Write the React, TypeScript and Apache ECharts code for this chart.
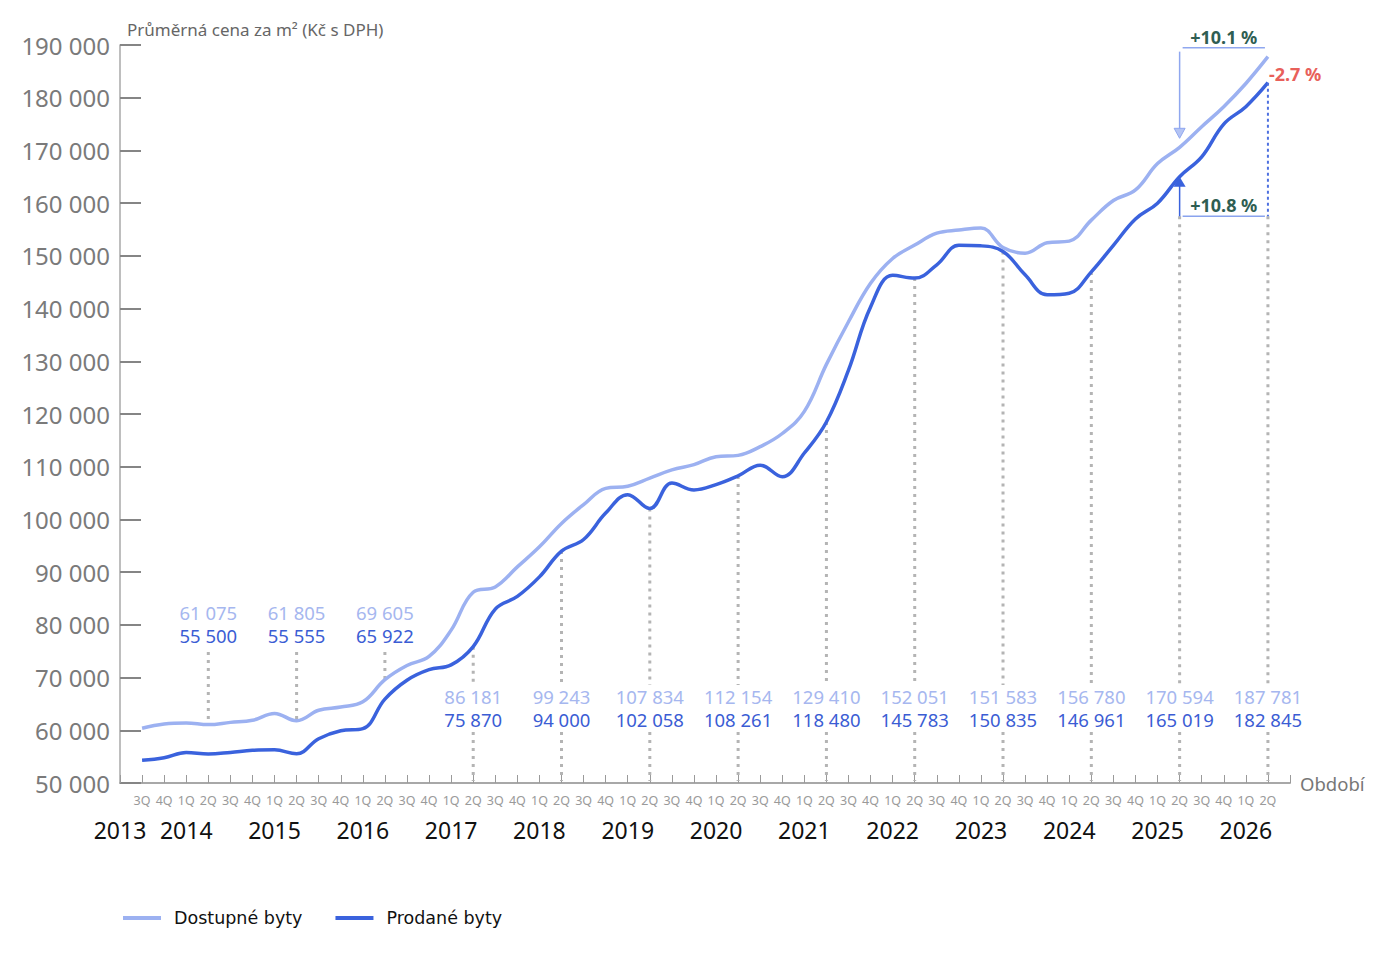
import React, { useEffect, useRef } from 'react';
import * as echarts from 'echarts';

// ---- data ----
const QUARTERS = [
  '3Q', '4Q',
  '1Q', '2Q', '3Q', '4Q', '1Q', '2Q', '3Q', '4Q', '1Q', '2Q', '3Q', '4Q',
  '1Q', '2Q', '3Q', '4Q', '1Q', '2Q', '3Q', '4Q', '1Q', '2Q', '3Q', '4Q',
  '1Q', '2Q', '3Q', '4Q', '1Q', '2Q', '3Q', '4Q', '1Q', '2Q', '3Q', '4Q',
  '1Q', '2Q', '3Q', '4Q', '1Q', '2Q', '3Q', '4Q', '1Q', '2Q', '3Q', '4Q',
  '1Q', '2Q',
];
const YEARS = ['2013', '2014', '2015', '2016', '2017', '2018', '2019', '2020', '2021', '2022', '2023', '2024', '2025', '2026'];
const YEAR_TICKS = [-1, 2, 6, 10, 14, 18, 22, 26, 30, 34, 38, 42, 46, 50];

const DOSTUPNE = [
  60400, 61200,
  61400, 61075, 61500, 61900,
  63200, 61805, 63800, 64400,
  65400, 69605, 72300, 74000,
  79000, 86181, 87200, 91000,
  94800, 99243, 102800, 105900,
  106300, 107834, 109400, 110400,
  111900, 112154, 113800, 116300,
  120500, 129410, 137500, 144800,
  149500, 152051, 154300, 154900,
  155300, 151583, 150500, 152500,
  152800, 156780, 160500, 162500,
  167500, 170594, 174500, 178300,
  182700, 187781,
];
const PRODANE = [
  54300, 54800,
  55800, 55500, 55800, 56200,
  56300, 55555, 58400, 59900,
  60300, 65922, 69500, 71500,
  72400, 75870, 83000, 85400,
  89100, 94000, 96200, 101200,
  104700, 102058, 106900, 105600,
  106600, 108261, 110300, 108100,
  112600, 118480, 128300, 140300,
  146300, 145783, 148300, 152000,
  151900, 150835, 146400, 142600,
  142900, 146961, 152000, 157000,
  160000, 165019, 168800, 175000,
  178300, 182845,
];
const LABELED = [3, 7, 11, 15, 19, 23, 27, 31, 35, 39, 43, 47, 51];
const LABELS_ABOVE = [3, 7, 11];

const ANNOT_FROM = 47;
const ANNOT_TO = 51;
const BRACKET_TOP = 189500;
const BRACKET_LOW = 157500;
const PCT_TOP = '+10.1 %';
const PCT_BOTTOM = '+10.8 %';
const PCT_RIGHT = '-2.7 %';

const SERIES_NAMES = ['Dostupné byty', 'Prodané byty'];
const Y_NAME = 'Průměrná cena za m² (Kč s DPH)';
const X_NAME = 'Období';

const Y_MIN = 50000;
const Y_MAX = 190000;

// ---- style ----
const C_LIGHT = '#9cb1f1';
const C_DARK = '#3a62dd';
const C_LIGHT_TXT = '#a6b7ef';
const C_DARK_TXT = '#3b5dd4';
const C_GREEN = '#2f5e52';
const C_RED = '#e8605a';
const FONT = "'Noto Sans', sans-serif";

const fmt = (v: number) => String(v).replace(/\B(?=(\d{3})+(?!\d))/g, ' ');

export default function App() {
  const ref = useRef<HTMLDivElement>(null);

  useEffect(() => {
    if (!ref.current) return;
    const chart = echarts.init(ref.current, null, { renderer: 'svg' });

    const dot = { stroke: '#b4b4b4', lineWidth: 3, lineDash: [3, 5] };

    const labelItems = LABELED.map((i) => [i, DOSTUPNE[i], PRODANE[i], LABELS_ABOVE.includes(i) ? 1 : 0]);

    const option: any = {
      animation: false,
      backgroundColor: '#ffffff',
      grid: { left: 120, right: 96, top: 45, bottom: 170, containLabel: false },
      legend: {
        data: SERIES_NAMES,
        left: 118,
        top: 904,
        icon: 'rect',
        itemWidth: 38,
        itemHeight: 4,
        itemGap: 33,
        textStyle: { fontFamily: "'DejaVu Sans', sans-serif", fontSize: 17.5, color: '#111', padding: [0, 0, 0, 8] },
      },
      xAxis: [
        {
          type: 'value',
          min: -1,
          max: 52,
          interval: 1,
          name: X_NAME,
          nameLocation: 'end',
          nameGap: 10,
          nameTextStyle: { fontFamily: FONT, fontSize: 18.5, color: '#777' },
          splitLine: { show: false },
          axisLine: { show: true, onZero: false, lineStyle: { color: '#a8a8a8', width: 2 } },
          axisTick: { show: true, inside: true, length: 8, lineStyle: { color: '#9a9a9a', width: 1 } },
          axisLabel: {
            margin: 11,
            fontFamily: FONT,
            fontSize: 12.5,
            color: '#9a9a9a',
            showMinLabel: true,
            showMaxLabel: true,
            formatter: (v: number) => (v >= 0 && v < QUARTERS.length ? QUARTERS[v] : ''),
          },
        },
        {
          type: 'value',
          min: -1,
          max: 52,
          interval: 1,
          position: 'bottom',
          splitLine: { show: false },
          axisLine: { show: false, onZero: false },
          axisTick: { show: false },
          axisLabel: {
            margin: 35,
            fontFamily: FONT,
            fontSize: 23,
            color: '#111',
            showMinLabel: true,
            showMaxLabel: true,
            formatter: (v: number) => {
              const k = YEAR_TICKS.indexOf(v);
              return k >= 0 ? YEARS[k] : '';
            },
          },
        },
      ],
      yAxis: {
        type: 'value',
        min: Y_MIN,
        max: Y_MAX,
        interval: 10000,
        name: Y_NAME,
        nameLocation: 'end',
        nameGap: 7,
        nameTextStyle: { fontFamily: FONT, fontSize: 17, color: '#666', align: 'left', verticalAlign: 'bottom', padding: [0, 0, 0, 7] },
        splitLine: { show: false },
        axisLine: { show: true, onZero: false, lineStyle: { color: '#a8a8a8', width: 1.5 } },
        axisTick: { show: true, inside: true, length: 21, lineStyle: { color: '#858585', width: 2 } },
        axisLabel: {
          margin: 10,
          fontFamily: FONT,
          fontSize: 24,
          color: '#7a7a7a',
          formatter: (v: number) => fmt(v),
        },
      },
      series: [
        {
          type: 'custom',
          name: 'labels',
          z: 1,
          xAxisIndex: 0,
          yAxisIndex: 0,
          silent: true,
          clip: false,
          data: labelItems,
          encode: { x: 0, y: 1 },
          renderItem: (_p: any, api: any) => {
            const i = api.value(0);
            const d = api.value(1);
            const p = api.value(2);
            const above = api.value(3);
            const [x, base] = api.coord([i, Y_MIN]);
            const dy = api.coord([i, d])[1];
            const py = api.coord([i, Math.min(p, BRACKET_LOW)])[1];
            const children: any[] = [];
            const txt = (text: string, y: number, color: string) => ({
              type: 'text',
              style: { text, x, y, fill: color, fontFamily: FONT, fontSize: 18.5, lineHeight: 20, align: 'center', verticalAlign: 'middle' },
            });
            if (above) {
              children.push({ type: 'line', shape: { x1: x, y1: base - 131, x2: x, y2: dy }, style: dot });
              children.push(txt(fmt(d), base - 171, C_LIGHT_TXT));
              children.push(txt(fmt(p), base - 148, C_DARK_TXT));
            } else {
              children.push({ type: 'line', shape: { x1: x, y1: py, x2: x, y2: base - 98 }, style: dot });
              children.push({ type: 'line', shape: { x1: x, y1: base - 51, x2: x, y2: base - 2 }, style: dot });
              children.push(txt(fmt(d), base - 87, C_LIGHT_TXT));
              children.push(txt(fmt(p), base - 64, C_DARK_TXT));
            }
            return { type: 'group', children };
          },
        },
        {
          type: 'line',
          name: SERIES_NAMES[0],
          z: 3,
          data: DOSTUPNE.map((v, i) => [i, v]),
          smooth: 0.4,
          showSymbol: false,
          symbol: 'none',
          color: C_LIGHT,
          lineStyle: { color: C_LIGHT, width: 3.5 },
        },
        {
          type: 'line',
          name: SERIES_NAMES[1],
          z: 4,
          data: PRODANE.map((v, i) => [i, v]),
          smooth: 0.4,
          showSymbol: false,
          symbol: 'none',
          color: C_DARK,
          lineStyle: { color: C_DARK, width: 3.5 },
        },
        {
          type: 'custom',
          name: 'annotation',
          z: 5,
          silent: true,
          clip: false,
          data: [[ANNOT_FROM, DOSTUPNE[ANNOT_FROM]]],
          encode: { x: 0, y: 1 },
          renderItem: (_p: any, api: any) => {
            const a = api.coord([ANNOT_FROM, DOSTUPNE[ANNOT_FROM]]);
            const b = api.coord([ANNOT_TO, DOSTUPNE[ANNOT_TO]]);
            const c = api.coord([ANNOT_FROM, PRODANE[ANNOT_FROM]]);
            const d = api.coord([ANNOT_TO, PRODANE[ANNOT_TO]]);
            const topY = api.coord([ANNOT_FROM, BRACKET_TOP])[1];
            const lowY = api.coord([ANNOT_FROM, BRACKET_LOW])[1];
            const midX = (a[0] + b[0]) / 2;
            const bold = (text: string, x: number, y: number, color: string, align: string) => ({
              type: 'text',
              style: { text, x, y, fill: color, fontFamily: FONT, fontSize: 18, fontWeight: 'bold', align, verticalAlign: 'middle' },
            });
            return {
              type: 'group',
              children: [
                { type: 'line', shape: { x1: a[0] + 3, y1: topY, x2: b[0] - 3, y2: topY }, style: { stroke: '#8fa7ef', lineWidth: 1.5 } },
                { type: 'line', shape: { x1: a[0], y1: topY + 4, x2: a[0], y2: a[1] - 18 }, style: { stroke: '#8fa7ef', lineWidth: 1.5 } },
                {
                  type: 'polygon',
                  shape: { points: [[a[0] - 5.5, a[1] - 19], [a[0] + 5.5, a[1] - 19], [a[0], a[1] - 9]] },
                  style: { fill: '#b3c3f4', stroke: '#8fa7ef', lineWidth: 1 },
                },
                bold(PCT_TOP, midX, topY - 11, C_GREEN, 'center'),
                bold(PCT_RIGHT, d[0] + 1, d[1] - 9, C_RED, 'left'),
                { type: 'line', shape: { x1: a[0] + 3, y1: lowY, x2: b[0] - 3, y2: lowY }, style: { stroke: '#8aa3ee', lineWidth: 1.5 } },
                { type: 'line', shape: { x1: c[0], y1: lowY, x2: c[0], y2: c[1] + 8 }, style: { stroke: C_DARK, lineWidth: 1.5 } },
                {
                  type: 'polygon',
                  shape: { points: [[c[0] - 6, c[1] + 10], [c[0] + 6, c[1] + 10], [c[0], c[1]]] },
                  style: { fill: C_DARK },
                },
                { type: 'line', shape: { x1: d[0], y1: d[1], x2: d[0], y2: lowY }, style: { stroke: '#4d70e0', lineWidth: 2, lineDash: [3, 3] } },
                bold(PCT_BOTTOM, midX, lowY - 11, C_GREEN, 'center'),
              ],
            };
          },
        },
      ],
    };

    chart.setOption(option);
    return () => chart.dispose();
  }, []);

  return <div ref={ref} style={{ position: 'absolute', left: 0, top: 0, width: 1386, height: 953 }} />;
}
